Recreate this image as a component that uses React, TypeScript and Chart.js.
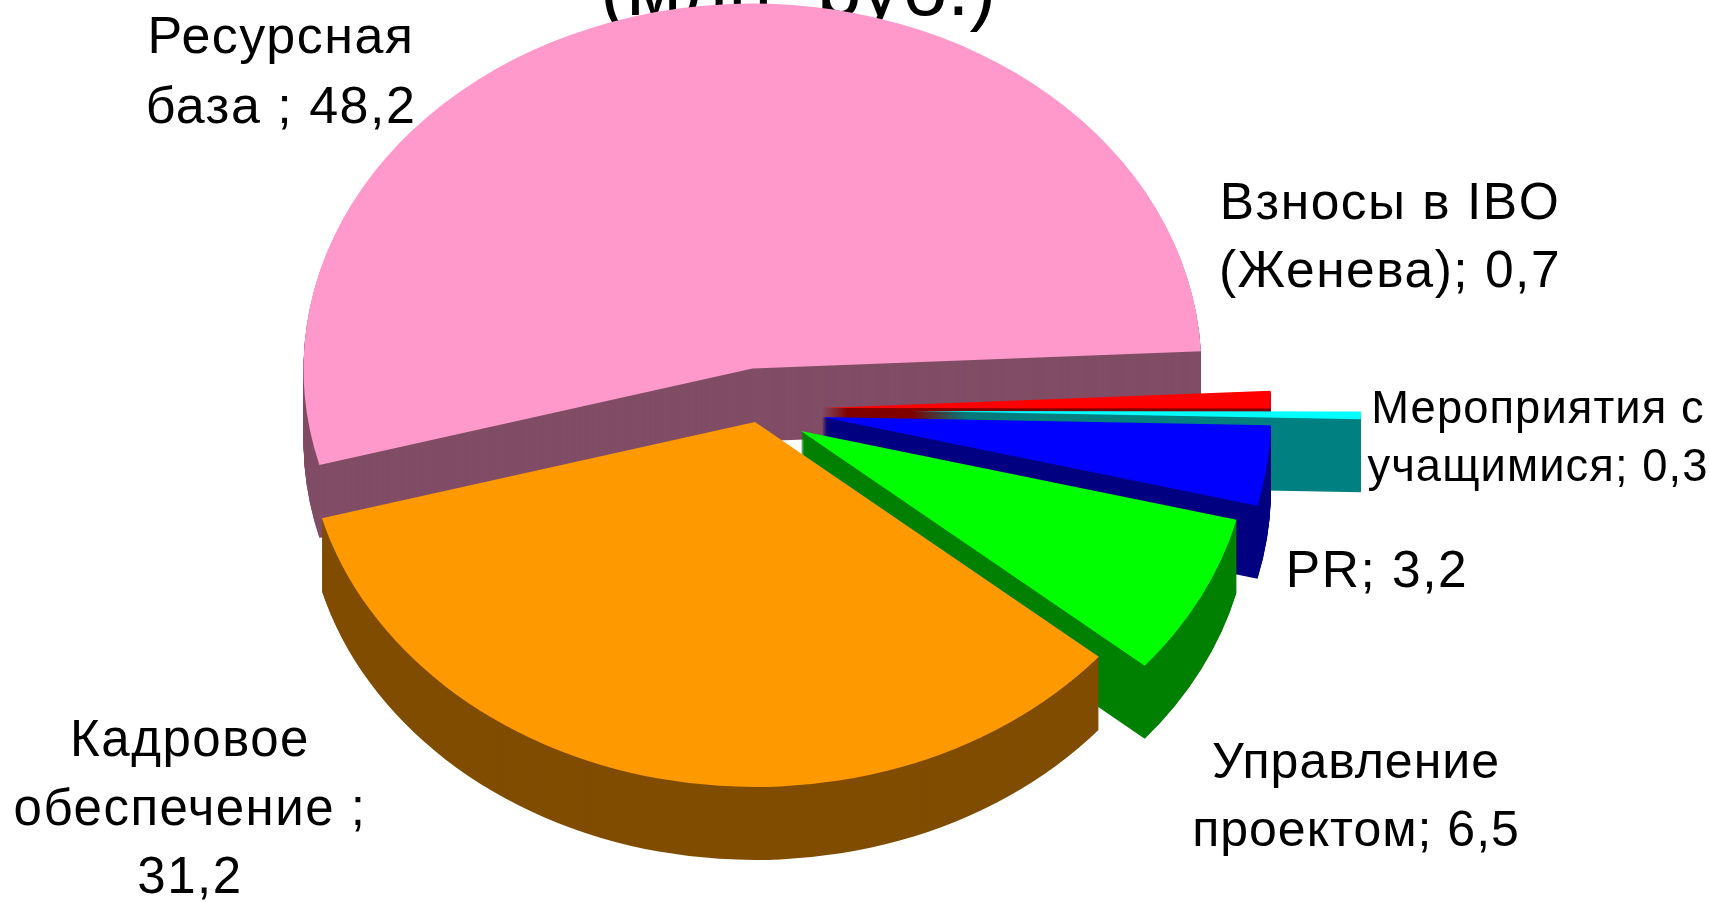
import React, { useEffect, useRef } from "react";
import { Chart, registerables } from "chart.js";

Chart.register(...registerables);

const title = "(млн. руб.)";
const categories = ["Ресурсная база", "Взносы в IBO (Женева)", "Мероприятия с учащимися", "PR", "Управление проектом", "Кадровое обеспечение"];
const values = [48.2, 0.7, 0.3, 3.2, 6.5, 31.2];
const labelLines = [
  ["Ресурсная", "база ; {v}"],
  ["Взносы в IBO", "(Женева); {v}"],
  ["Мероприятия с", "учащимися; {v}"],
  ["PR; {v}"],
  ["Управление", "проектом; {v}"],
  ["Кадровое", "обеспечение ;", "{v}"],
];
const faceColors = ["#ff99cc", "#ff0000", "#00ffff", "#0000ff", "#00ff00", "#ff9900"];
const wallColors = ["#804d66", "#800000", "#008080", "#000080", "#008000", "#804d00"];

// styling / layout of the pseudo-3D projection
const centre = { x: 752.5, y: 368.6 };
const tilt = 0.813;
const depth = 73;
const pieRadius = 449;
const explode = [[0, 0], [69.5, 39.4], [159.5, 42.4], [69.5, 48.4], [48.5, 62.4], [2.5, 53.4]];
const labelStyle = [
  { x: 281, y: 53, lh: 70, size: 52, sp: 1.5 },
  { x: 1390, y: 219, lh: 68, size: 51.5, sp: 1.5 },
  { x: 1538, y: 423, lh: 58, size: 45.3, sp: 1.1 },
  { x: 1377, y: 587, lh: 68, size: 51.5, sp: 1.5 },
  { x: 1356, y: 778, lh: 68, size: 50, sp: 1 },
  { x: 190, y: 756, lh: 68.5, size: 51, sp: 1.5 },
];

const fmt = (v: number) => v.toFixed(1).replace(".", ",");

const pie3d = {
  id: "pie3d",
  beforeDatasetsDraw(chart: any) {
    const ctx = chart.ctx;
    ctx.save();
    ctx.fillStyle = "#000";
    ctx.textAlign = "center";
    ctx.textBaseline = "alphabetic";
    ctx.font = '80px "Liberation Sans"';
    ctx.fillText(title, 798, 15);
    ctx.restore();

    const arcs = chart.getDatasetMeta(0).data;
    arcs.forEach((el: any, i: number) => {
      const base = el.options;
      const wall = Object.create(base, { backgroundColor: { value: wallColors[i] } });
      for (let d = depth; d >= 0; d--) {
        ctx.save();
        ctx.translate(centre.x + explode[i][0], centre.y + explode[i][1] + d);
        ctx.scale(1, tilt);
        ctx.translate(-el.x, -el.y);
        el.options = d === 0 ? base : wall;
        el.draw(ctx);
        ctx.restore();
      }
      el.options = base;
    });
    return false;
  },
  afterDraw(chart: any) {
    const ctx = chart.ctx;
    ctx.save();
    ctx.fillStyle = "#000";
    ctx.textAlign = "center";
    ctx.textBaseline = "alphabetic";
    labelLines.forEach((lines, i) => {
      const s = labelStyle[i];
      ctx.font = `${s.size}px "Liberation Sans"`;
      ctx.letterSpacing = `${s.sp}px`;
      lines.forEach((line, j) => {
        ctx.fillText(line.replace("{v}", fmt(values[i])), s.x, s.y + j * s.lh);
      });
    });
    ctx.restore();
  },
};

export default function App() {
  const ref = useRef<HTMLCanvasElement>(null);
  useEffect(() => {
    const chart = new Chart(ref.current!, {
      type: "pie",
      data: {
        labels: categories,
        datasets: [{ data: values, backgroundColor: faceColors, borderWidth: 0 }],
      },
      options: {
        animation: false,
        responsive: false,
        devicePixelRatio: 1,
        rotation: 254.7,
        radius: pieRadius,
        plugins: { legend: { display: false }, tooltip: { enabled: false }, title: { display: false } },
      },
      plugins: [pie3d],
    } as any);
    return () => chart.destroy();
  }, []);
  return (
    <canvas
      ref={ref}
      width={1710}
      height={902}
      style={{ position: "absolute", left: 0, top: 0, width: 1710, height: 902, background: "#fff" }}
    />
  );
}
